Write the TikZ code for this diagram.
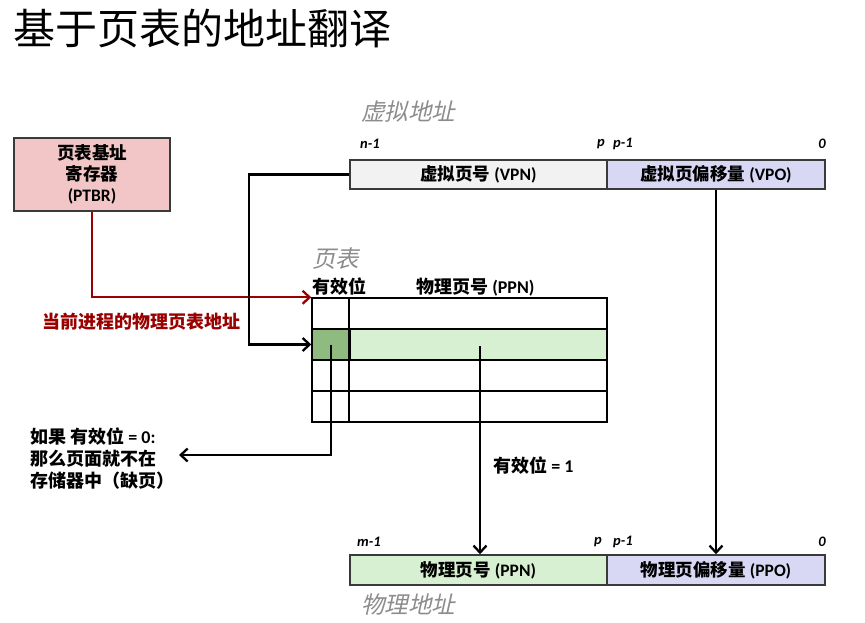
\documentclass[tikz,border=0pt]{standalone}
\usepackage{fontspec}
\setmainfont{Carlito}[BoldFont={* Bold},ItalicFont={* Italic},BoldItalicFont={* Bold Italic}]
\newfontfamily\cjk{Noto Sans CJK SC}
\newfontfamily\cjkit{Noto Sans CJK SC}[FakeSlant=0.22]
\usetikzlibrary{arrows.meta}
\definecolor{ptbrfill}{HTML}{F2C6C6}
\definecolor{vpnfill}{HTML}{F2F2F2}
\definecolor{offfill}{HTML}{D8D8F4}
\definecolor{ppnfill}{HTML}{D8F0D2}
\definecolor{validfill}{HTML}{8FBA80}
\definecolor{darkred}{HTML}{990000}
\definecolor{labgray}{HTML}{8C8C8C}
\definecolor{bordergray}{HTML}{3A3A3A}
\newcommand{\C}[1]{{\cjk\bfseries #1}}
\begin{document}
\begin{tikzpicture}[x=1pt,y=-1pt,
  box/.style={draw=bordergray,line width=1.5pt,inner sep=0pt,font=\fontsize{17.5}{20}\selectfont\bfseries},
  cell/.style={draw=black,line width=1.4pt,inner sep=0pt,minimum width=295pt,minimum height=31pt},
  conn/.style={line width=2.3pt,-{Straight Barb[length=7pt,width=13pt,line width=2.3pt]}},
  txt/.style={inner sep=0pt,font=\fontsize{18}{20}\selectfont\bfseries},
  bit/.style={inner sep=0pt,font=\fontsize{14.5}{16}\selectfont\bfseries\itshape},
  glab/.style={inner sep=0pt,text=labgray,font=\fontsize{23.5}{25}\selectfont\cjkit}]
\useasboundingbox (0,0) rectangle (865,623);
% title
\node[anchor=west,inner sep=0pt,font=\fontsize{42}{44}\selectfont\cjk] (title) at (13,29) {基于页表的地址翻译};
% PTBR
\node[box,fill=ptbrfill,minimum width=156pt,minimum height=73pt,align=center] (ptbr) at (92,174.5)
  {\C{页表基址}\\[1pt]\C{寄存器}\\[1pt](PTBR)};
% virtual address
\node[glab,anchor=west] (valab) at (361,112) {虚拟地址};
\node[box,fill=vpnfill,minimum width=257pt,minimum height=29pt] (vpn) at (478.5,174.5) {\C{虚拟页号} (VPN)};
\node[box,fill=offfill,minimum width=218pt,minimum height=29pt] (vpo) at (716,174.5) {\C{虚拟页偏移量} (VPO)};
\node[bit,anchor=west] (vn1) at (360,144) {n-1};
\node[bit,anchor=east] (vp) at (605,144) {p};
\node[bit,anchor=west] (vp1) at (613,144) {p-1};
\node[bit,anchor=east] (v0) at (826,144) {0};
% page table
\node[glab,anchor=west] (ptlab) at (312,259) {页表};
\node[txt,anchor=west] (validhdr) at (312,287) {\C{有效位}};
\node[txt,anchor=west] (ppnhdr) at (416,287) {\C{物理页号} (PPN)};
\node[cell] (row1) at (459.5,313.5) {};
\node[cell,fill=ppnfill] (row2) at (459.5,344.5) {};
\node[cell] (row3) at (459.5,375.5) {};
\node[cell] (row4) at (459.5,406.5) {};
\node[draw=black,line width=1.4pt,fill=validfill,inner sep=0pt,minimum width=38pt,minimum height=31pt] (valid) at (331,344.5) {};
\draw[line width=1.8pt] (row1.north west) ++(38,0) coordinate (divtop) -- (divtop |- row4.south);
% PTBR red connector
\draw[conn,draw=darkred,-{Straight Barb[length=7pt,width=13pt,line width=2.3pt,color=darkred]}] (ptbr.south) |- (row1.north west);
\node[txt,anchor=west,text=darkred] (ptbrlab) at (42,322) {\C{当前进程的物理页表地址}};
% VPN connector
\coordinate (vbend) at (249,174.5);
\draw[conn] (vpn.west) -- (vbend) |- (row2.west);
% valid = 0
\coordinate (vturn) at (331,455);
\coordinate (vend) at (179,455);
\draw[conn] (valid.center) -- (vturn) -- (vend);
\node[txt,anchor=west] (miss1) at (30,437) {\C{如果 有效位} = 0:};
\node[txt,anchor=west] (miss2) at (30,459) {\C{那么页面就不在}};
\node[txt,anchor=west] (miss3) at (30,481) {\C{存储器中（缺页）}};
% physical address
\node[box,fill=ppnfill,minimum width=257pt,minimum height=30pt] (ppn) at (478.5,570) {\C{物理页号} (PPN)};
\node[box,fill=offfill,minimum width=218pt,minimum height=30pt] (ppo) at (716,570) {\C{物理页偏移量} (PPO)};
\node[bit,anchor=west] (pm1) at (357,542) {m-1};
\node[bit,anchor=east] (pp) at (602,542) {p};
\node[bit,anchor=west] (pp1) at (613,542) {p-1};
\node[bit,anchor=east] (p0) at (826,542) {0};
\node[glab,anchor=west] (palab) at (361,605) {物理地址};
% PPN connector
\coordinate (pstart) at (480,346);
\draw[conn] (pstart) -- (pstart |- ppn.north);
\node[txt,anchor=west] (valid1) at (493,466) {\C{有效位} = 1};
% VPO connector
\draw[conn] (vpo.south) -- (vpo.south |- ppo.north);
\end{tikzpicture}
\end{document}
